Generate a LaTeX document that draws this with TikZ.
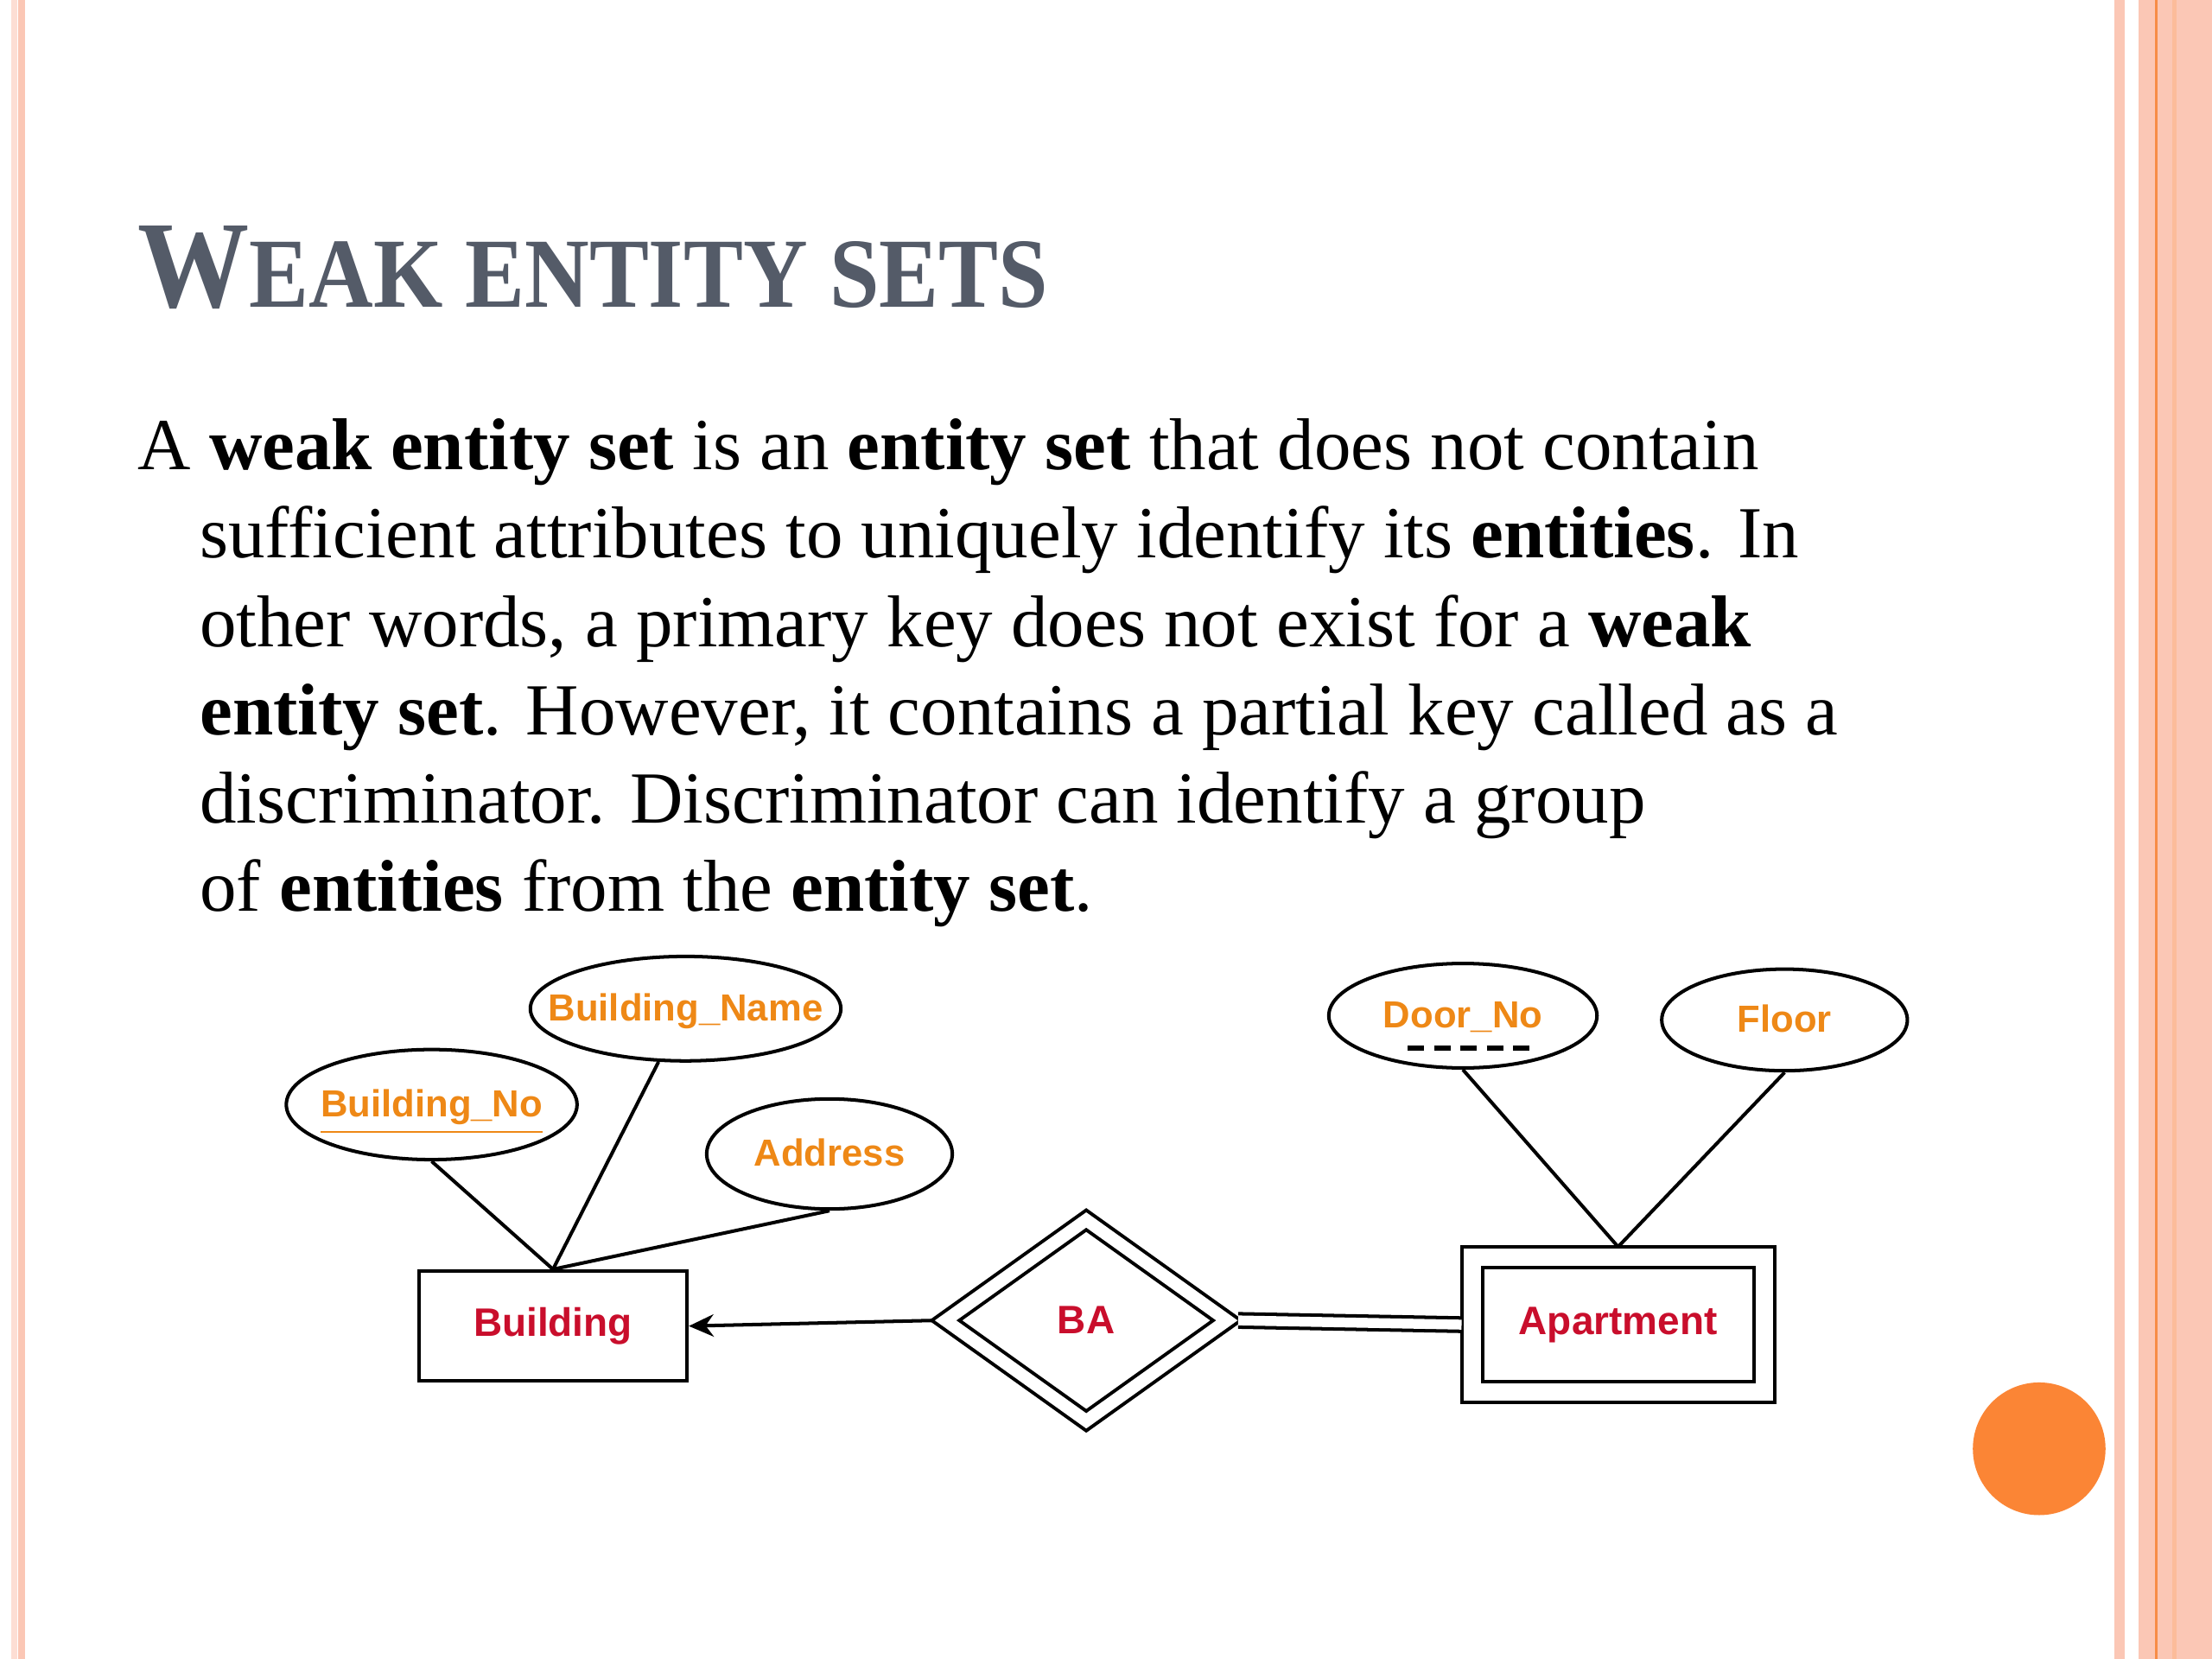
\documentclass[tikz,border=0pt]{standalone}
\usepackage{fontspec}
\setmainfont{Liberation Serif}
\newfontfamily\titlefont{Liberation Serif}[FakeStretch=0.9]
\newfontfamily\erfont{Liberation Sans}
\usetikzlibrary{arrows.meta,shapes.geometric}

\definecolor{borderpink}{RGB}{251,199,181}
\definecolor{borderpale}{RGB}{253,222,212}
\definecolor{borderline}{RGB}{247,140,70}
\definecolor{dotorange}{RGB}{251,133,53}
\definecolor{titlegray}{RGB}{84,91,104}
\definecolor{attrorange}{RGB}{238,136,22}
\definecolor{entred}{RGB}{201,14,44}

\begin{document}
\begin{tikzpicture}[x=0.01cm,y=-0.01cm,
  attr/.style={ellipse,draw,line width=0.7pt,inner xsep=-2cm,inner ysep=-1cm,text height=5.6pt,text depth=0.6pt,text=attrorange,font=\erfont\bfseries\fontsize{7.6}{9}\selectfont},
  ent/.style={rectangle,draw,line width=0.7pt,inner sep=0pt,text=entred,font=\erfont\bfseries\fontsize{8}{10}\selectfont},
  weakent/.style={ent,double,double distance=3.5pt,outer sep=2.1pt},
  weakrel/.style={diamond,draw,line width=0.7pt,double,double distance=2.5pt,inner sep=0pt,outer sep=1.6pt,text=entred,font=\erfont\bfseries\fontsize{8}{10}\selectfont},
  link/.style={line width=0.7pt}]
  \useasboundingbox (0,0) rectangle (1568,1176);
  \fill[white] (0,0) rectangle (1568,1176);
  \fill[borderpale] (8,0) rectangle (12,1176);
  \fill[borderpink] (13,0) rectangle (18,1176);
  \fill[borderpink] (1499,0) rectangle (1506,1176);
  \fill[borderpink] (1516,0) rectangle (1568,1176);
  \fill[borderline] (1527.7,0) rectangle (1529.6,1176);
  \fill[borderpink!85!orange] (1540,0) rectangle (1543,1176);
  \fill[dotorange] (1445.5,1027) circle (0.47cm);

  \node[anchor=base west,inner sep=0pt,text=titlegray,font=\titlefont\bfseries] (title) at (97,218)
    {\fontsize{25}{30}\selectfont W\fontsize{20}{24}\selectfont EAK ENTITY SETS};
  \node[anchor=base west,align=left,inner sep=0pt,font=\fontsize{14.8}{17.8}\selectfont] (body) at (97,646)
    {A \textbf{weak entity set} is an \textbf{entity set} that does not contain\\
     \hspace*{0.44cm}sufficient attributes to uniquely identify its \textbf{entities}. In\\
     \hspace*{0.44cm}other words, a primary key does not exist for a \textbf{weak}\\
     \hspace*{0.44cm}\textbf{entity set}. However, it contains a partial key called as a\\
     \hspace*{0.44cm}discriminator. Discriminator can identify a group\\
     \hspace*{0.44cm}of \textbf{entities} from the \textbf{entity set}.};

  \node[attr,minimum width=2.2cm,minimum height=0.74cm] (bname) at (486,715) {Building\_Name};
  \node[attr,minimum width=2.06cm,minimum height=0.78cm] (bno) at (306,783) {\underline{Building\_No}};
  \node[attr,minimum width=1.74cm,minimum height=0.78cm] (addr) at (588,818) {Address};
  \node[ent,minimum width=1.9cm,minimum height=0.78cm] (bld) at (392,940) {Building};
  \node[weakrel,minimum width=2.04cm,minimum height=1.47cm] (ba) at (770,936) {BA};
  \node[weakent,minimum width=2.07cm,minimum height=0.955cm] (apt) at (1147,939) {Apartment};
  \node[attr,minimum width=1.9cm,minimum height=0.74cm] (dno) at (1037,720) {Door\_No};
  \node[attr,minimum width=1.74cm,minimum height=0.72cm] (floor) at (1265,723) {Floor};

  \draw[link] (bno.south) -- (bld.north);
  \draw[link] (bname) -- (bld.north);
  \draw[link] (addr.south) -- (bld.north);
  \draw[link,-{Stealth[length=5pt,width=4.5pt]}] (ba.west) -- (bld.east);
  \draw[link,double,double distance=2pt] (ba.east) -- (apt.west);
  \draw[link] (dno.south) -- (apt.north);
  \draw[link] (floor.south) -- (apt.north);
  \draw[line width=0.9pt,dash pattern=on 3.3pt off 2pt] ([xshift=-0.39cm,yshift=-0.23cm]dno.center) -- ([xshift=0.48cm,yshift=-0.23cm]dno.center);
\end{tikzpicture}
\end{document}
